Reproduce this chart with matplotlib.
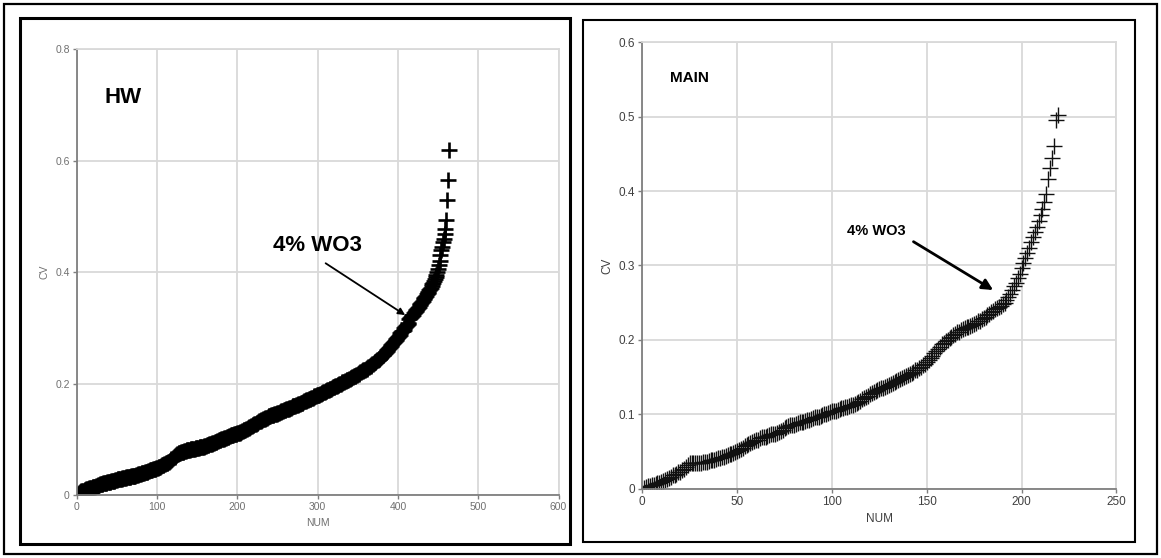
import matplotlib.pyplot as plt
from matplotlib.patches import Rectangle
import numpy as np

plt.rcParams['font.family'] = ['Liberation Sans', 'DejaVu Sans']

# HW: sorted CV values, one per sample (NUM = 1..n)
hw_cv = [
    0.000, 0.002, 0.003, 0.005, 0.006, 0.007, 0.007, 0.008, 0.008, 0.009,
    0.009, 0.010, 0.010, 0.011, 0.011, 0.012, 0.012, 0.013, 0.013, 0.014,
    0.014, 0.015, 0.015, 0.016, 0.016, 0.017, 0.018, 0.018, 0.019, 0.019,
    0.020, 0.020, 0.021, 0.021, 0.022, 0.022, 0.022, 0.023, 0.023, 0.024,
    0.024, 0.024, 0.025, 0.025, 0.025, 0.026, 0.026, 0.027, 0.027, 0.027,
    0.028, 0.028, 0.028, 0.029, 0.029, 0.029, 0.030, 0.030, 0.031, 0.031,
    0.031, 0.032, 0.032, 0.032, 0.033, 0.033, 0.033, 0.034, 0.034, 0.034,
    0.035, 0.035, 0.035, 0.036, 0.036, 0.036, 0.037, 0.037, 0.038, 0.038,
    0.039, 0.039, 0.040, 0.040, 0.041, 0.041, 0.042, 0.042, 0.043, 0.043,
    0.044, 0.044, 0.045, 0.045, 0.046, 0.046, 0.047, 0.047, 0.048, 0.048,
    0.049, 0.050, 0.050, 0.051, 0.052, 0.053, 0.054, 0.054, 0.055, 0.056,
    0.057, 0.058, 0.058, 0.059, 0.060, 0.061, 0.063, 0.064, 0.065, 0.066,
    0.068, 0.069, 0.070, 0.071, 0.073, 0.074, 0.075, 0.076, 0.076, 0.077,
    0.077, 0.078, 0.078, 0.079, 0.079, 0.079, 0.080, 0.080, 0.081, 0.081,
    0.081, 0.082, 0.082, 0.082, 0.083, 0.083, 0.083, 0.084, 0.084, 0.085,
    0.085, 0.085, 0.086, 0.086, 0.086, 0.087, 0.087, 0.087, 0.088, 0.088,
    0.088, 0.089, 0.089, 0.090, 0.091, 0.091, 0.092, 0.092, 0.093, 0.094,
    0.094, 0.095, 0.095, 0.096, 0.097, 0.097, 0.098, 0.098, 0.099, 0.100,
    0.100, 0.101, 0.101, 0.102, 0.103, 0.103, 0.104, 0.104, 0.105, 0.106,
    0.106, 0.107, 0.107, 0.108, 0.108, 0.109, 0.109, 0.110, 0.110, 0.111,
    0.111, 0.112, 0.112, 0.113, 0.113, 0.114, 0.115, 0.116, 0.117, 0.117,
    0.118, 0.119, 0.120, 0.121, 0.122, 0.122, 0.123, 0.124, 0.125, 0.126,
    0.127, 0.127, 0.128, 0.129, 0.130, 0.131, 0.132, 0.132, 0.133, 0.134,
    0.135, 0.136, 0.137, 0.137, 0.138, 0.139, 0.139, 0.140, 0.141, 0.141,
    0.142, 0.143, 0.143, 0.144, 0.144, 0.145, 0.145, 0.146, 0.146, 0.147,
    0.148, 0.148, 0.149, 0.149, 0.150, 0.151, 0.151, 0.152, 0.152, 0.153,
    0.154, 0.154, 0.155, 0.155, 0.156, 0.157, 0.157, 0.158, 0.159, 0.159,
    0.160, 0.160, 0.161, 0.161, 0.162, 0.163, 0.163, 0.164, 0.165, 0.165,
    0.166, 0.167, 0.168, 0.168, 0.169, 0.170, 0.170, 0.171, 0.172, 0.172,
    0.173, 0.174, 0.175, 0.175, 0.176, 0.177, 0.177, 0.178, 0.179, 0.179,
    0.180, 0.180, 0.181, 0.182, 0.183, 0.183, 0.184, 0.185, 0.185, 0.186,
    0.187, 0.188, 0.188, 0.189, 0.190, 0.191, 0.191, 0.192, 0.193, 0.193,
    0.194, 0.195, 0.196, 0.196, 0.197, 0.198, 0.199, 0.199, 0.200, 0.201,
    0.202, 0.202, 0.203, 0.204, 0.205, 0.206, 0.206, 0.207, 0.208, 0.209,
    0.210, 0.210, 0.211, 0.212, 0.213, 0.214, 0.214, 0.215, 0.216, 0.217,
    0.218, 0.219, 0.220, 0.221, 0.222, 0.223, 0.224, 0.224, 0.225, 0.226,
    0.227, 0.228, 0.229, 0.230, 0.231, 0.232, 0.233, 0.235, 0.236, 0.237,
    0.238, 0.239, 0.240, 0.242, 0.243, 0.244, 0.245, 0.246, 0.248, 0.249,
    0.251, 0.252, 0.254, 0.255, 0.257, 0.259, 0.260, 0.262, 0.263, 0.265,
    0.267, 0.269, 0.271, 0.273, 0.275, 0.276, 0.278, 0.280, 0.282, 0.284,
    0.286, 0.288, 0.290, 0.292, 0.294, 0.295, 0.297, 0.299, 0.301, 0.303,
    0.305, 0.307, 0.309, 0.316, 0.318, 0.320, 0.321, 0.323, 0.324, 0.326,
    0.328, 0.330, 0.332, 0.334, 0.336, 0.338, 0.341, 0.343, 0.345, 0.347,
    0.349, 0.351, 0.354, 0.356, 0.358, 0.361, 0.363, 0.365, 0.368, 0.370,
    0.372, 0.375, 0.378, 0.381, 0.384, 0.387, 0.391, 0.395, 0.400, 0.405,
    0.412, 0.420, 0.430, 0.439, 0.445, 0.454, 0.460, 0.469, 0.478, 0.494,
    0.530, 0.566, 0.620,
]

# MAIN: sorted CV values, one per sample
main_cv = [
    0.001, 0.002, 0.003, 0.004, 0.005, 0.005, 0.006, 0.007, 0.008, 0.009,
    0.011, 0.012, 0.013, 0.015, 0.016, 0.018, 0.019, 0.020, 0.022, 0.023,
    0.025, 0.027, 0.029, 0.032, 0.034, 0.034, 0.034, 0.035, 0.035, 0.035,
    0.035, 0.036, 0.036, 0.036, 0.037, 0.038, 0.039, 0.039, 0.040, 0.041,
    0.041, 0.042, 0.043, 0.044, 0.045, 0.046, 0.047, 0.048, 0.049, 0.050,
    0.052, 0.054, 0.055, 0.057, 0.059, 0.060, 0.061, 0.063, 0.064, 0.065,
    0.066, 0.068, 0.069, 0.069, 0.070, 0.071, 0.072, 0.073, 0.074, 0.074,
    0.075, 0.076, 0.077, 0.079, 0.081, 0.083, 0.084, 0.085, 0.085, 0.086,
    0.087, 0.088, 0.089, 0.090, 0.090, 0.091, 0.092, 0.093, 0.094, 0.095,
    0.096, 0.096, 0.097, 0.098, 0.099, 0.100, 0.101, 0.102, 0.103, 0.104,
    0.104, 0.105, 0.106, 0.107, 0.108, 0.109, 0.110, 0.110, 0.111, 0.112,
    0.113, 0.114, 0.115, 0.117, 0.118, 0.120, 0.122, 0.123, 0.125, 0.127,
    0.128, 0.130, 0.131, 0.132, 0.134, 0.135, 0.136, 0.137, 0.138, 0.140,
    0.141, 0.142, 0.143, 0.145, 0.146, 0.147, 0.149, 0.150, 0.152, 0.153,
    0.154, 0.156, 0.157, 0.159, 0.160, 0.162, 0.164, 0.166, 0.168, 0.170,
    0.173, 0.176, 0.179, 0.182, 0.185, 0.188, 0.191, 0.194, 0.196, 0.198,
    0.200, 0.202, 0.204, 0.206, 0.208, 0.210, 0.211, 0.213, 0.214, 0.216,
    0.217, 0.218, 0.219, 0.220, 0.222, 0.223, 0.225, 0.226, 0.228, 0.229,
    0.231, 0.233, 0.235, 0.237, 0.239, 0.241, 0.243, 0.244, 0.246, 0.248,
    0.250, 0.253, 0.258, 0.262, 0.267, 0.272, 0.277, 0.283, 0.289, 0.296,
    0.303, 0.310, 0.317, 0.324, 0.331, 0.338, 0.345, 0.352, 0.360, 0.368,
    0.376, 0.385, 0.396, 0.416, 0.431, 0.444, 0.461, 0.495, 0.502,
]

hw_xticks = [0, 100, 200, 300, 400, 500, 600]
hw_yticks = [0, 0.2, 0.4, 0.6, 0.8]
hw_yticklabels = ['0', '0.2', '0.4', '0.6', '0.8']
main_xticks = [0, 50, 100, 150, 200, 250]
main_yticks = [0, 0.1, 0.2, 0.3, 0.4, 0.5, 0.6]
main_yticklabels = ['0', '0.1', '0.2', '0.3', '0.4', '0.5', '0.6']

W, H = 1161, 558
fig = plt.figure(figsize=(W / 100, H / 100), dpi=100)


def box(x0, y0, x1, y1, lw):
    # rectangle given in pixels from the top-left corner
    fig.patches.append(Rectangle((x0 / W, 1 - y1 / H), (x1 - x0) / W, (y1 - y0) / H,
                                 transform=fig.transFigure, fill=False,
                                 ec='black', lw=lw))


box(4, 4, 1157, 554, 1.6)
box(20, 18, 570, 544, 2.2)
box(583, 20, 1135, 542, 1.5)


def style(ax, xticks, yticks, yticklabels, tick_color, size):
    ax.set_xticks(xticks)
    ax.set_yticks(yticks)
    ax.set_yticklabels(yticklabels)
    ax.set_xlim(xticks[0], xticks[-1])
    ax.set_ylim(yticks[0], yticks[-1])
    ax.grid(True, color='#d9d9d9', lw=1.3)
    ax.set_axisbelow(True)
    for s in ['top', 'right']:
        ax.spines[s].set_color('#d9d9d9')
        ax.spines[s].set_linewidth(1.3)
    for s in ['left', 'bottom']:
        ax.spines[s].set_color('#7f7f7f')
        ax.spines[s].set_linewidth(1.3)
    ax.tick_params(direction='out', length=3, width=1, color='#7f7f7f',
                   labelsize=size, labelcolor=tick_color, pad=2)
    ax.set_xlabel('NUM', fontsize=size, color=tick_color, labelpad=4)
    ax.set_ylabel('CV', fontsize=size, color=tick_color, labelpad=4)


# HW panel
ax1 = fig.add_axes([0.0660, 0.1129, 0.4151, 0.7987])
x1 = np.arange(1, len(hw_cv) + 1)
ax1.plot(x1, hw_cv, ls='none', marker='+', ms=11.5, mew=1.9, color='black')
style(ax1, hw_xticks, hw_yticks, hw_yticklabels, '#707070', 7.5)
ax1.text(35, 0.713, 'HW', fontsize=16, fontweight='bold', ha='left', va='center')
ax1.text(245, 0.448, '4% WO3', fontsize=16, fontweight='bold', ha='left', va='center')
ax1.annotate('', xy=(409, 0.323), xytext=(310, 0.416),
             arrowprops=dict(arrowstyle='-|>', lw=1.3, color='black',
                             mutation_scale=10, shrinkA=0, shrinkB=0))

# MAIN panel
ax2 = fig.add_axes([0.5532, 0.1242, 0.4084, 0.8])
x2 = np.arange(1, len(main_cv) + 1)
ax2.plot(x2, main_cv, ls='none', marker='+', ms=12, mew=1.0, color='#111111')
style(ax2, main_xticks, main_yticks, main_yticklabels, '#404040', 8.5)
ax2.text(14.5, 0.552, 'MAIN', fontsize=11, fontweight='bold', ha='left', va='center')
ax2.text(107.7, 0.346, '4% WO3', fontsize=10.5, fontweight='bold', ha='left', va='center')
ax2.annotate('', xy=(185, 0.267), xytext=(143, 0.332),
             arrowprops=dict(arrowstyle='-|>', lw=2, color='black',
                             mutation_scale=16, shrinkA=0, shrinkB=0))

plt.savefig('out.png', dpi=100)
